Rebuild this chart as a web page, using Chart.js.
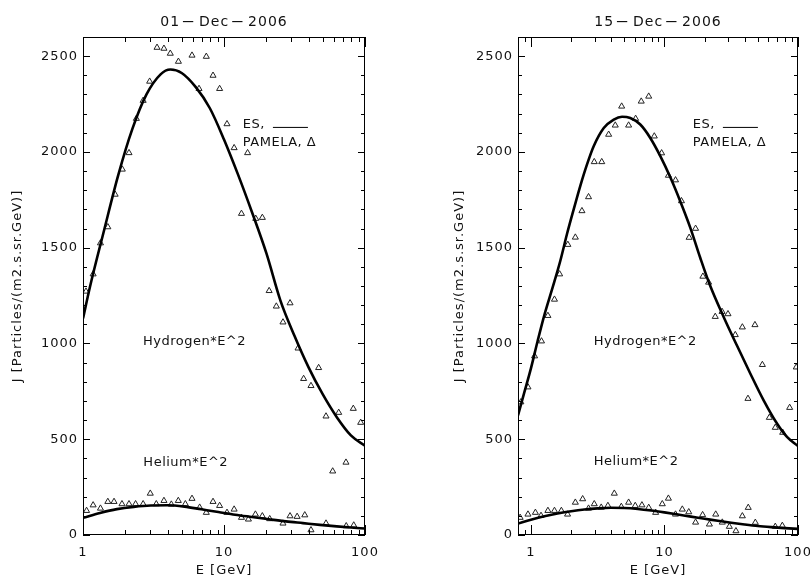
<!DOCTYPE html>
<html>
<head>
<meta charset="utf-8">
<script src="https://cdn.jsdelivr.net/npm/chart.js@4.4.1/dist/chart.umd.min.js"></script>
<style>
  html, body { margin: 0; padding: 0; background: #fff; }
  #wrap { position: relative; width: 810px; height: 583px; overflow: hidden; background: #fff; }
  canvas { position: absolute; top: 0; }
  #left { left: 0; }
  #right { left: 405px; }
</style>
</head>
<body>
<div id="wrap">
  <canvas id="left" width="405" height="583"></canvas>
  <canvas id="right" width="405" height="583"></canvas>
</div>
<script>
// ---- 01-Dec-2006 : PAMELA measurements (E in GeV, J*E^2) ----
const pamH1E = [1.05, 1.18, 1.33, 1.50, 1.69, 1.90, 2.12, 2.39, 2.67, 2.97, 3.35, 3.75, 4.16, 4.75, 5.93, 6.65, 7.49, 8.36, 9.31, 10.5,
                11.8, 13.3, 14.7, 16.8, 18.7, 20.9, 23.5, 26.2, 29.4, 33.5, 36.7, 41.4, 46.9, 52.9, 59, 65.1, 73.3, 82.6, 93.2];
const pamH1J = [1272, 1362, 1524, 1608, 1778, 1909, 1995, 2174, 2268, 2368, 2545, 2540, 2514, 2472, 2504, 2330, 2498, 2399, 2330, 2146,
                2021, 1678, 1995, 1652, 1657, 1275, 1194, 1111, 1211, 975, 816, 779, 873, 620, 333, 639, 379, 660, 587];
const pamHe1E = [1.06, 1.18, 1.33, 1.50, 1.66, 1.89, 2.12, 2.36, 2.67, 3.0, 3.31, 3.75, 4.23, 4.74, 5.32, 5.93, 6.72, 7.49, 8.36, 9.31,
                 10.5, 11.8, 13.3, 14.9, 16.7, 18.7, 21.1, 26.2, 29.4, 33, 37.4, 41.4, 52.9, 73.6, 83.2];
const pamHe1J = [127, 156, 139, 174, 174, 162, 162, 162, 162, 217, 162, 179, 160, 179, 162, 190, 144, 117, 174, 153,
                 117, 134, 91, 82, 108, 99, 84, 61, 99, 96, 104, 26, 61, 47, 51];

// ---- 01-Dec-2006 : ES model curves ----
const esH1E = [1, 1.12, 1.41, 1.78, 2.24, 2.82, 3.55, 4.17, 5.01, 6.31, 7.94, 10, 12.6, 15.8, 20, 25.1, 31.6, 39.8, 50.1, 63.1, 79.4, 100];
const esH1J = [1130, 1295, 1590, 1880, 2120, 2300, 2405, 2430, 2412, 2338, 2228, 2065, 1880, 1685, 1470, 1225, 1040, 875, 735, 615, 520, 466];
const esHe1E = [1, 1.32, 1.74, 2.29, 3.02, 3.98, 5.25, 6.92, 9.12, 12.0, 15.8, 20.9, 27.5, 36.3, 47.9, 63.1, 79.4, 100];
const esHe1J = [90, 115, 135, 147, 154, 155, 148, 134, 120, 106, 94, 82, 71, 62, 53, 45, 39, 34];

// ---- 15-Dec-2006 : PAMELA measurements ----
const pamH2E = [0.84, 0.95, 1.065, 1.20, 1.34, 1.50, 1.64, 1.89, 2.15, 2.41, 2.70, 2.98, 3.39, 3.82, 4.28, 4.78, 5.39, 6.08, 6.70, 7.62,
                8.39, 9.52, 10.7, 12.1, 13.4, 15.3, 17.1, 19.4, 21.4, 24.0, 27.0, 29.9, 33.9, 38.3, 42.2, 47.6, 54.1, 61, 67.6, 76.8, 86.6, 97.1];
const pamH2J = [694, 772, 934, 1012, 1145, 1230, 1362, 1516, 1554, 1692, 1765, 1948, 1948, 2091, 2139, 2238, 2139, 2174, 2264, 2290,
                2082, 1994, 1877, 1853, 1744, 1553, 1600, 1350, 1319, 1140, 1166, 1154, 1045, 1085, 712, 1097, 889, 613, 561, 535, 665, 876];
const pamHe2E = [0.83, 0.95, 1.08, 1.19, 1.34, 1.50, 1.69, 1.88, 2.15, 2.44, 2.70, 2.98, 3.36, 3.77, 4.21, 4.75, 5.39, 6.04, 6.78, 7.62,
                 8.59, 9.63, 10.7, 12.1, 13.6, 15.2, 17.1, 19.3, 21.7, 24.2, 27.1, 30.6, 34.3, 38.3, 42.4, 47.9, 67.6, 76.3];
const pamHe2J = [91, 108, 117, 101, 127, 127, 127, 108, 170, 188, 139, 162, 144, 153, 217, 148, 170, 153, 156, 143,
                 117, 162, 191, 108, 134, 120, 66, 105, 56, 108, 66, 44, 21, 99, 143, 65, 44, 49];

// ---- 15-Dec-2006 : ES model curves ----
const esH2E = [0.8, 0.89, 1, 1.12, 1.26, 1.45, 1.66, 1.86, 2.09, 2.34, 2.63, 2.95, 3.51, 4.17, 4.81, 5.55, 6.59, 7.83, 9.31, 11.1,
               13.1, 15.6, 18.5, 22, 27.8, 34.9, 44, 55.3, 69.6, 82.7, 100];
const esH2J = [625, 742, 870, 1010, 1148, 1290, 1432, 1570, 1700, 1822, 1935, 2030, 2125, 2169, 2184, 2177, 2143, 2073, 1978, 1865,
               1744, 1605, 1449, 1301, 1137, 989, 842, 703, 582, 512, 464];
const esHe2E = [0.8, 1, 1.26, 1.58, 2.0, 2.51, 3.16, 3.98, 5.01, 6.31, 7.94, 10, 12.6, 15.8, 20, 25.1, 31.6, 39.8, 50.1, 63.1, 79.4, 100];
const esHe2J = [60, 80, 98, 112, 124, 133, 139, 142, 141, 136, 128, 118, 107, 96, 85, 74, 64, 55, 47, 41, 36, 32];

// ---- axes ----
const xTicksLeft = [1, 2, 3, 4, 5, 6, 7, 8, 9, 10, 20, 30, 40, 50, 60, 70, 80, 90, 100];
const xTicksRight = [0.9, 1, 2, 3, 4, 5, 6, 7, 8, 9, 10, 20, 30, 40, 50, 60, 70, 80, 90, 100];
const xLabelTicks = [1, 10, 100];
const yTicks = [0, 100, 200, 300, 400, 500, 600, 700, 800, 900, 1000, 1100, 1200, 1300, 1400, 1500, 1600, 1700, 1800, 1900,
                2000, 2100, 2200, 2300, 2400, 2500, 2600];
const yLabelTicks = [0, 500, 1000, 1500, 2000, 2500];

Chart.defaults.font.family = '"DejaVu Sans", sans-serif';
Chart.defaults.font.size = 13;
Chart.defaults.color = '#111';

const pairs = (E, J) => E.map((e, i) => ({ x: e, y: J[i] }));

// title drawn piece by piece so the hyphens come out as wide IDL dashes
function drawTitle(ctx, text, cx, cy) {
    const parts = text.split(/(-)/);
    const dashScale = 2.8, gap = 1;
    const widths = parts.map(p => ctx.measureText(p).width * (p === '-' ? dashScale : 1));
    const total = widths.reduce((s, w) => s + w, 0) + gap * (parts.length - 1);
    let x = cx - total / 2;
    parts.forEach((p, i) => {
        if (p === '-') {
            ctx.save();
            ctx.translate(x, cy);
            ctx.scale(dashScale, 1);
            ctx.fillText(p, 0, 0);
            ctx.restore();
        } else {
            ctx.fillText(p, x, cy);
        }
        x += widths[i] + gap;
    });
}

// IDL style box: frame on all four sides, ticks pointing inward, titles and notes
const idlFrame = {
    id: 'idlFrame',
    beforeDraw(chart) {
        chart.ctx.letterSpacing = '1px';
    },
    afterDraw(chart, args, opts) {
        const { ctx, chartArea: a, scales: { x, y } } = chart;
        ctx.save();
        ctx.strokeStyle = '#000';
        ctx.lineWidth = 1;
        ctx.strokeRect(a.left + 0.5, a.top + 0.5, a.width - 1, a.height - 1);

        ctx.beginPath();
        x.ticks.forEach(t => {
            const px = Math.round(x.getPixelForValue(t.value)) + 0.5;
            const len = xLabelTicks.includes(t.value) ? 10 : 5;
            ctx.moveTo(px, a.bottom); ctx.lineTo(px, a.bottom - len);
            ctx.moveTo(px, a.top); ctx.lineTo(px, a.top + len);
        });
        y.ticks.forEach(t => {
            const py = Math.round(y.getPixelForValue(t.value)) + 0.5;
            const len = yLabelTicks.includes(t.value) ? 7 : 4;
            ctx.moveTo(a.left, py); ctx.lineTo(a.left + len, py);
            ctx.moveTo(a.right, py); ctx.lineTo(a.right - len, py);
        });
        ctx.stroke();

        ctx.fillStyle = '#111';
        ctx.textBaseline = 'middle';
        ctx.font = '14px "DejaVu Sans"';
        ctx.letterSpacing = '1px';
        ctx.textAlign = 'left';
        drawTitle(ctx, opts.title, (a.left + a.right) / 2, 22);

        ctx.font = '13px "DejaVu Sans"';
        ctx.letterSpacing = '0.5px';
        ctx.beginPath();
        opts.notes.forEach(n => {
            const px = x.getPixelForValue(n.e);
            const py = y.getPixelForValue(n.j);
            ctx.fillText(n.text, px, py);
            if (n.line) {
                const w = ctx.measureText(n.text).width;
                ctx.moveTo(px + w + 8, py + 2.5);
                ctx.lineTo(px + w + 43, py + 2.5);
            }
        });
        ctx.stroke();
        ctx.restore();
    }
};

function makeChart(id, cfg) {
    const curve = (data) => ({
        data: data,
        showLine: true,
        borderColor: '#000',
        borderWidth: 2.6,
        pointRadius: 0,
        cubicInterpolationMode: 'monotone',
        fill: false
    });
    const marks = (data) => ({
        data: data,
        showLine: false,
        pointStyle: 'triangle',
        pointRadius: 3.5,
        borderWidth: 1,
        borderColor: '#222',
        backgroundColor: 'rgba(255,255,255,0)'
    });

    return new Chart(document.getElementById(id), {
        type: 'scatter',
        data: {
            datasets: [
                curve(pairs(cfg.esH[0], cfg.esH[1])),
                curve(pairs(cfg.esHe[0], cfg.esHe[1])),
                marks(pairs(cfg.pamH[0], cfg.pamH[1])),
                marks(pairs(cfg.pamHe[0], cfg.pamHe[1]))
            ]
        },
        options: {
            responsive: false,
            animation: false,
            layout: { padding: { top: 37, right: cfg.padRight, left: 0, bottom: 0 } },
            plugins: {
                legend: { display: false },
                tooltip: { enabled: false },
                idlFrame: { title: cfg.title, notes: cfg.notes }
            },
            scales: {
                x: {
                    type: 'logarithmic',
                    min: cfg.xMin,
                    max: 100,
                    grid: { display: false, drawTicks: false },
                    border: { display: false },
                    afterBuildTicks: (s) => { s.ticks = cfg.xTicks.map(v => ({ value: v })); },
                    afterFit: (s) => { s.height = 48; s.paddingLeft = 0; s.paddingRight = 0; },
                    ticks: {
                        autoSkip: false,
                        maxRotation: 0,
                        padding: 10,
                        callback: (v) => xLabelTicks.includes(v) ? String(v) : ''
                    },
                    title: { display: true, text: 'E [GeV]', padding: { top: 0, bottom: 5 } }
                },
                y: {
                    min: 0,
                    max: 2600,
                    grid: { display: false, drawTicks: false },
                    border: { display: false },
                    afterBuildTicks: (s) => { s.ticks = yTicks.map(v => ({ value: v })); },
                    afterFit: (s) => { s.width = cfg.yWidth; s.paddingTop = 0; s.paddingBottom = 0; },
                    ticks: {
                        autoSkip: false,
                        padding: 5,
                        callback: (v) => yLabelTicks.includes(v) ? String(v) : ''
                    },
                    title: {
                        display: true,
                        text: 'J [Particles/(m2.s.sr.GeV)]',
                        padding: { top: cfg.yTitlePad, bottom: 0 }
                    }
                }
            }
        },
        plugins: [idlFrame]
    });
}

makeChart('left', {
    title: '01-Dec-2006',
    xMin: 1,
    xTicks: xTicksLeft,
    padRight: 40,
    yWidth: 83,
    yTitlePad: 10,
    esH: [esH1E, esH1J], esHe: [esHe1E, esHe1J],
    pamH: [pamH1E, pamH1J], pamHe: [pamHe1E, pamHe1J],
    notes: [
        { text: 'ES,', e: 13.6, j: 2141, line: true },
        { text: 'PAMELA, \u0394', e: 13.6, j: 2046 },
        { text: 'Hydrogen*E^2', e: 2.66, j: 1008 },
        { text: 'Helium*E^2', e: 2.68, j: 380 }
    ]
});

makeChart('right', {
    title: '15-Dec-2006',
    xMin: 0.8,
    xTicks: xTicksRight,
    padRight: 12,
    yWidth: 113,
    yTitlePad: 47,
    esH: [esH2E, esH2J], esHe: [esHe2E, esHe2J],
    pamH: [pamH2E, pamH2J], pamHe: [pamHe2E, pamHe2J],
    notes: [
        { text: 'ES,', e: 16.3, j: 2141, line: true },
        { text: 'PAMELA, \u0394', e: 16.3, j: 2046 },
        { text: 'Hydrogen*E^2', e: 2.95, j: 1008 },
        { text: 'Helium*E^2', e: 2.95, j: 383 }
    ]
});
</script>
</body>
</html>
